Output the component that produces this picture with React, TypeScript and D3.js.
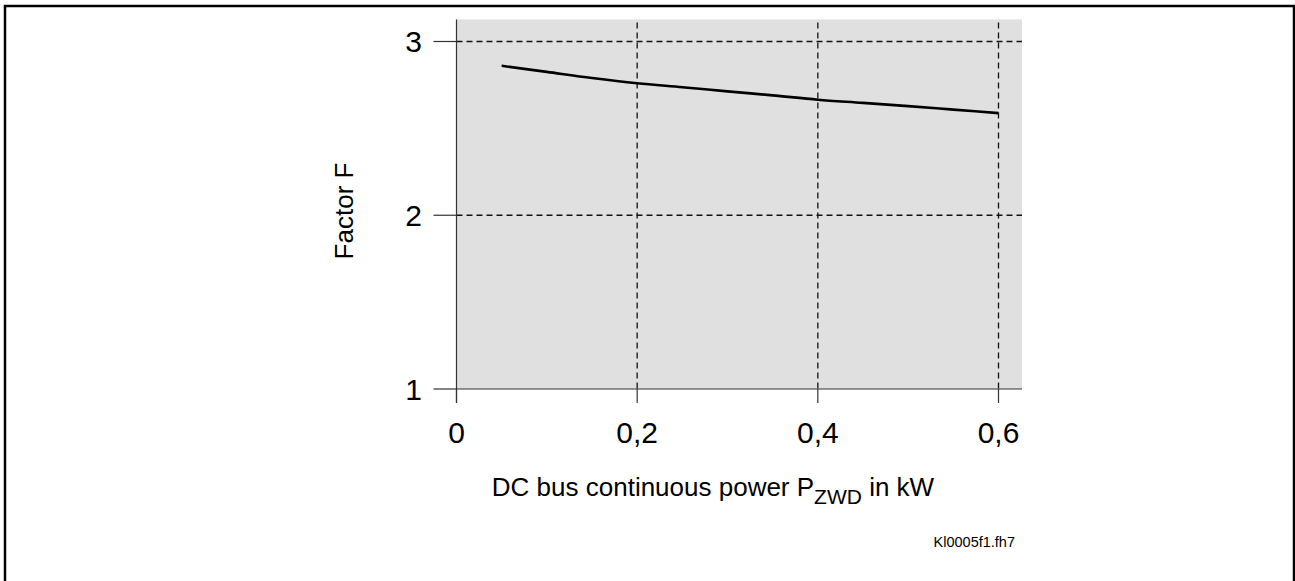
import React from "react";
import * as d3 from "d3";

const powerKW = [0.05, 0.1, 0.15, 0.2, 0.25, 0.3, 0.35, 0.4, 0.45, 0.5, 0.55, 0.6];
const factorF = [2.86, 2.825, 2.79, 2.76, 2.737, 2.713, 2.69, 2.665, 2.647, 2.628, 2.608, 2.588];
const xTicks = [0, 0.2, 0.4, 0.6];
const xTickLabels = ["0", "0,2", "0,4", "0,6"];
const yTicks = [1, 2, 3];
const yTickLabels = ["1", "2", "3"];
const xGrid = [0.2, 0.4, 0.6];
const yGrid = [2, 3];

const FONT = "'Liberation Sans', Arial, Helvetica, sans-serif";

export default function App() {
  const x = d3.scaleLinear().domain([0, 0.6]).range([456.5, 998.5]);
  const y = d3.scaleLinear().domain([1, 3]).range([389, 41.5]);
  const xMax = 0.626;
  const yMax = 3.127;
  const pts: [number, number][] = powerKW.map((p, i) => [p, factorF[i]]);
  const line = d3
    .line<[number, number]>()
    .x((d) => x(d[0]))
    .y((d) => y(d[1]))
    .curve(d3.curveMonotoneX);

  return (
    <svg
      width={1295}
      height={581}
      style={{ position: "absolute", left: 0, top: 0, background: "#fff" }}
      fontFamily={FONT}
    >
      <rect x={5} y={6} width={1289} height={600} fill="none" stroke="#000" strokeWidth={2.5} />
      <rect
        x={x(0)}
        y={y(yMax)}
        width={x(xMax) - x(0)}
        height={y(1) - y(yMax)}
        fill="#e0e0e0"
      />
      {xGrid.map((v) => (
        <line
          key={"xg" + v}
          x1={x(v)}
          x2={x(v)}
          y1={y(yMax) + 3}
          y2={y(1)}
          stroke="#111"
          strokeWidth={1.3}
          strokeDasharray="6,4"
        />
      ))}
      {yGrid.map((v) => (
        <line
          key={"yg" + v}
          x1={x(0)}
          x2={x(xMax)}
          y1={y(v)}
          y2={y(v)}
          stroke="#111"
          strokeWidth={1.3}
          strokeDasharray="6,4"
        />
      ))}
      <line x1={x(0)} x2={x(0)} y1={y(yMax)} y2={y(1) + 14} stroke="#333" strokeWidth={1.2} />
      <line x1={x(0)} x2={x(xMax)} y1={y(1)} y2={y(1)} stroke="#333" strokeWidth={1.2} />
      {yTicks.map((v, i) => (
        <g key={"yt" + v}>
          <line x1={x(0) - 23} x2={x(0)} y1={y(v)} y2={y(v)} stroke="#333" strokeWidth={1.2} />
          <text x={422} y={y(v)} dy="0.35em" textAnchor="end" fontSize={30} fill="#000">
            {yTickLabels[i]}
          </text>
        </g>
      ))}
      {xTicks.map((v, i) => (
        <g key={"xt" + v}>
          <line x1={x(v)} x2={x(v)} y1={y(1)} y2={y(1) + 14} stroke="#333" strokeWidth={1.2} />
          <text x={x(v)} y={443} textAnchor="middle" fontSize={30} fill="#000">
            {xTickLabels[i]}
          </text>
        </g>
      ))}
      <path d={line(pts) || ""} fill="none" stroke="#000" strokeWidth={2.6} />
      <text
        transform="translate(353,211) rotate(-90)"
        textAnchor="middle"
        fontSize={26}
        fill="#000"
      >
        Factor F
      </text>
      <text x={713} y={496} textAnchor="middle" fontSize={26} fill="#000">
        DC bus continuous power P
        <tspan fontSize={21} dy={8}>ZWD</tspan>
        <tspan dy={-8}> in kW</tspan>
      </text>
      <text x={1015} y={547} textAnchor="end" fontSize={14.5} fill="#000">
        Kl0005f1.fh7
      </text>
    </svg>
  );
}
